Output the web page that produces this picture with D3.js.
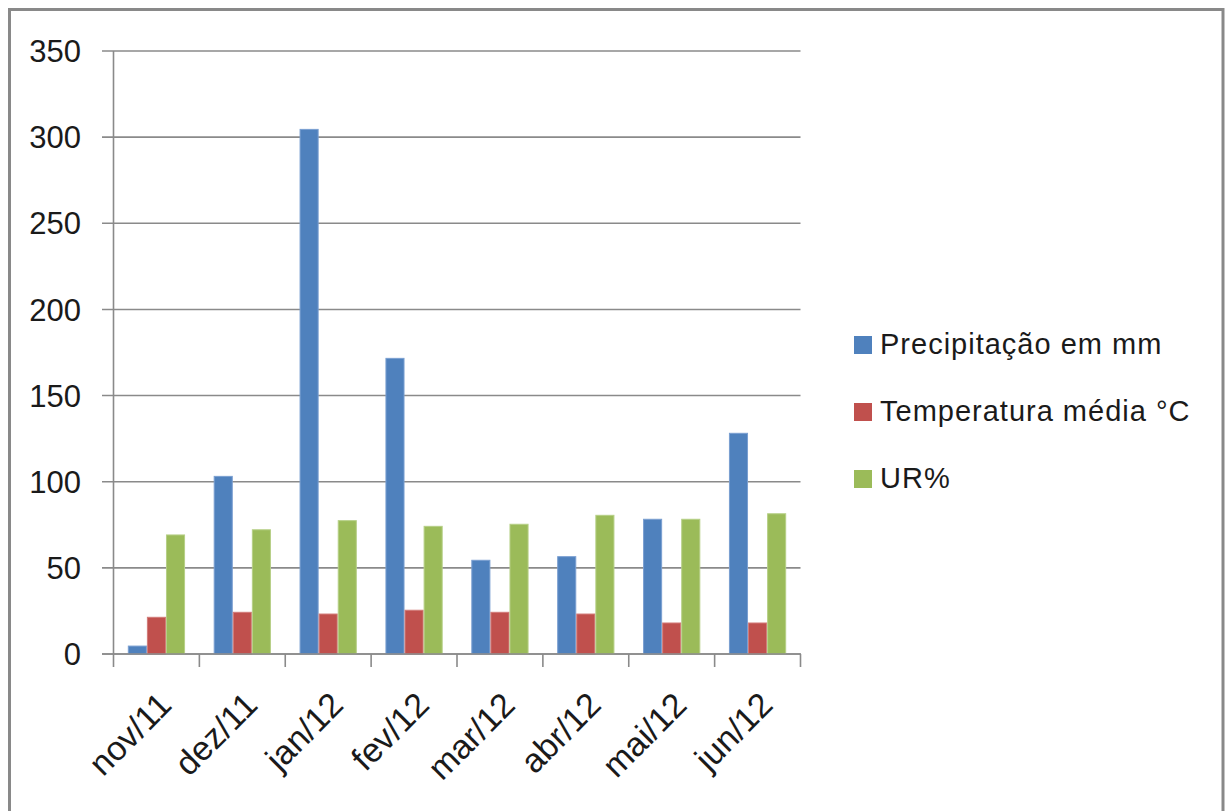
<!DOCTYPE html>
<html>
<head>
<meta charset="utf-8">
<script src="https://cdn.jsdelivr.net/npm/d3@7/dist/d3.min.js"></script>
<style>
  html, body { margin: 0; padding: 0; background: #fff; }
  svg { display: block; }
  text { font-family: "Liberation Sans", Arial, sans-serif; fill: #1a1a1a; }
</style>
</head>
<body>
<svg id="chart" width="1226" height="811"></svg>
<script>
const categories = ["nov/11", "dez/11", "jan/12", "fev/12", "mar/12", "abr/12", "mai/12", "jun/12"];
const seriesNames = ["Precipitação em mm", "Temperatura média °C", "UR%"];
const precipitacao = [4.6, 103.1, 304.5, 171.6, 54.4, 56.5, 78.2, 128.1];
const temperatura = [21.3, 24.2, 23.2, 25.4, 24.2, 23.2, 18.0, 18.0];
const ur = [69.1, 72.1, 77.4, 74.1, 75.3, 80.5, 78.2, 81.4];
const yTicks = [0, 50, 100, 150, 200, 250, 300, 350];
const colors = ["#4F81BD", "#C0504D", "#9BBB59"];
const strokes = ["#7a9fd1", "#d27b78", "#b6cf86"];

const seriesValues = [precipitacao, temperatura, ur];
const table = categories.map((c, i) => ({
  cat: c,
  vals: seriesNames.map((s, j) => ({ name: s, idx: j, value: seriesValues[j][i] }))
}));

const svg = d3.select("#chart");
const plotLeft = 113.5, plotRight = 800.5, plotTop = 51, plotBottom = 654;

// outer border
svg.append("rect")
  .attr("x", 9.5).attr("y", 9.5).attr("width", 1213.5).attr("height", 900)
  .attr("fill", "none").attr("stroke", "#898989").attr("stroke-width", 3);

const y = d3.scaleLinear().domain([0, 350]).range([plotBottom, plotTop]);
const x0 = d3.scaleBand().domain(categories).range([plotLeft, plotRight]).paddingInner(0).paddingOuter(0);
const x1 = d3.scaleBand().domain(seriesNames).range([0, x0.bandwidth()]).paddingInner(0).paddingOuter(0.75);

// y axis (via d3 axis, styled)
const yAxis = d3.axisLeft(y).tickValues(yTicks).tickSize(0).tickPadding(0).tickFormat(d3.format("d"));
const gy = svg.append("g").attr("transform", `translate(${plotLeft},0)`).call(yAxis);
gy.select(".domain").remove();
gy.selectAll(".tick text").remove();

// gridlines
svg.append("g").selectAll("line").data(yTicks).join("line")
  .attr("x1", plotLeft - 11.5).attr("x2", plotRight)
  .attr("y1", d => y(d)).attr("y2", d => y(d))
  .attr("stroke", "#8a8a8a").attr("stroke-width", 1.6);

svg.append("g").selectAll("text").data(yTicks).join("text")
  .attr("x", 81).attr("y", d => y(d))
  .attr("dy", "0.36em")
  .attr("text-anchor", "end")
  .style("font-size", "31px")
  .text(d => d3.format("d")(d));

// bars
const groups = svg.append("g").selectAll("g").data(table).join("g")
  .attr("transform", d => `translate(${x0(d.cat)},0)`);
groups.selectAll("rect").data(d => d.vals).join("rect")
  .attr("x", d => x1(d.name) + 0.5)
  .attr("width", x1.bandwidth() - 1)
  .attr("y", d => y(d.value))
  .attr("height", d => y(0) - y(d.value))
  .attr("fill", d => colors[d.idx])
  .attr("stroke", d => strokes[d.idx])
  .attr("stroke-width", 1);

// y axis line
svg.append("line")
  .attr("x1", plotLeft).attr("x2", plotLeft).attr("y1", plotTop).attr("y2", plotBottom)
  .attr("stroke", "#8a8a8a").attr("stroke-width", 1.6);
// x axis line
svg.append("line")
  .attr("x1", plotLeft - 11.5).attr("x2", plotRight + 0.5).attr("y1", plotBottom).attr("y2", plotBottom)
  .attr("stroke", "#8a8a8a").attr("stroke-width", 1.6);
// x ticks at category boundaries
const bounds = categories.map(c => x0(c)).concat([x0(categories[categories.length - 1]) + x0.bandwidth()]);
svg.append("g").selectAll("line").data(bounds).join("line")
  .attr("x1", d => d).attr("x2", d => d).attr("y1", plotBottom).attr("y2", plotBottom + 13)
  .attr("stroke", "#8a8a8a").attr("stroke-width", 1.6);

// x labels rotated
svg.append("g").selectAll("text").data(categories).join("text")
  .attr("transform", d => `translate(${x0(d) + x0.bandwidth() / 2 + 17},${707}) rotate(-45)`)
  .attr("text-anchor", "end")
  .style("font-size", "34px")
  .text(d => d);

// legend
const legend = svg.append("g").selectAll("g").data(seriesNames).join("g")
  .attr("transform", (d, i) => `translate(854,${354 + i * 67})`);
legend.append("rect")
  .attr("x", 0).attr("y", -18).attr("width", 18).attr("height", 18)
  .attr("fill", (d, i) => colors[i]);
legend.append("text")
  .attr("x", 26).attr("y", 0)
  .style("font-size", "29px")
  .style("letter-spacing", "1px")
  .text(d => d);
</script>
</body>
</html>
